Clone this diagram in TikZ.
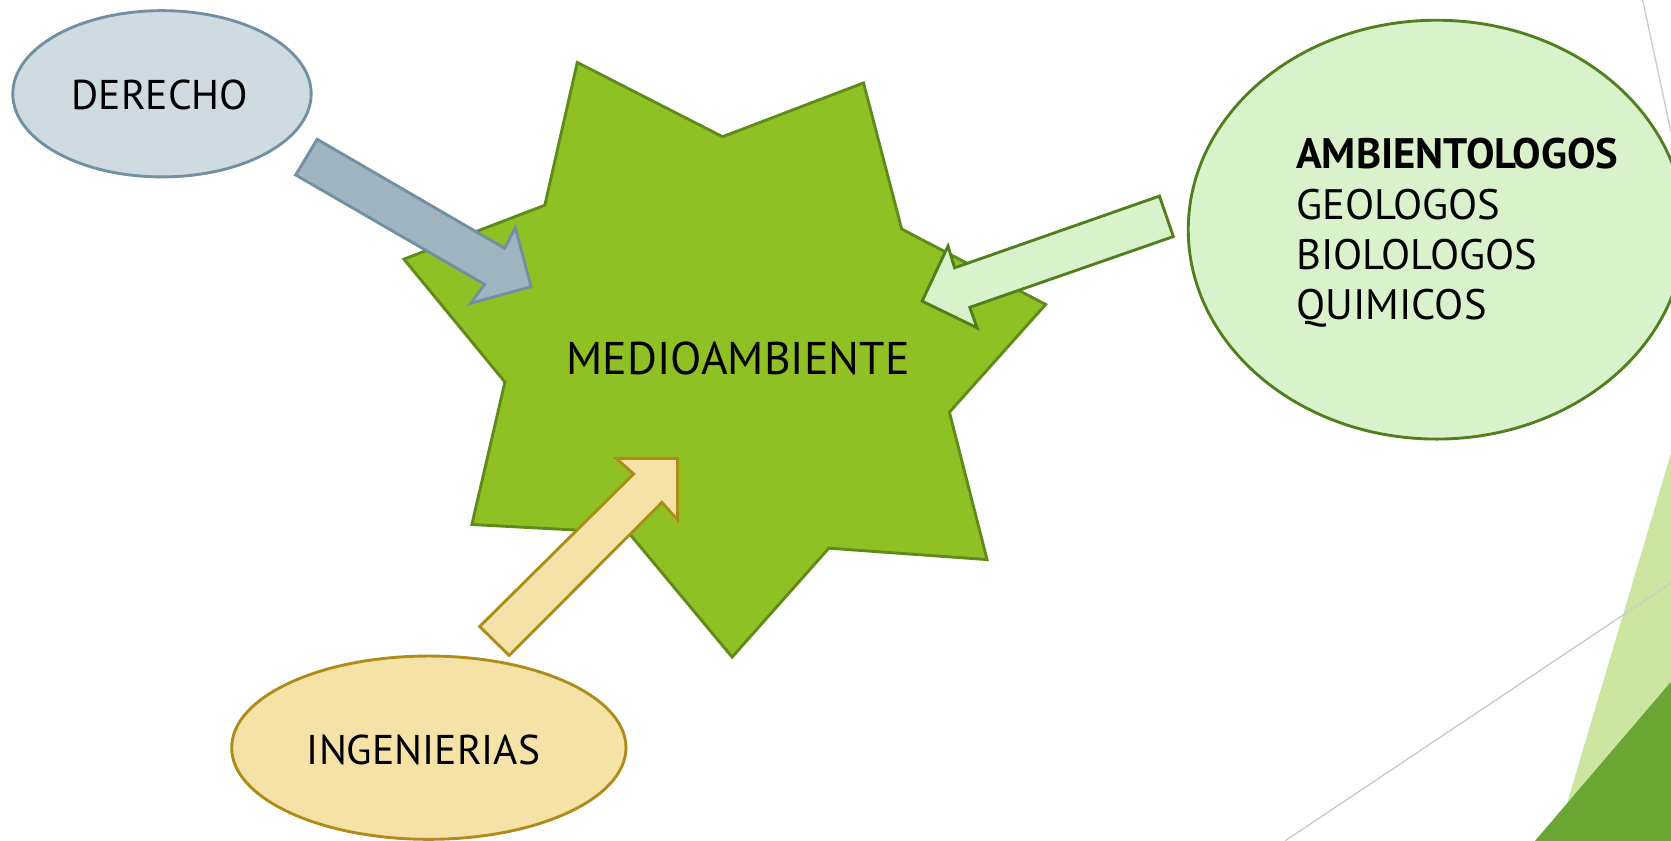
\documentclass[tikz,border=0pt]{standalone}
\usepackage{fontspec}
\setmainfont{PT Sans}
\usetikzlibrary{shapes.geometric}
\definecolor{derFill}{RGB}{207,219,225}
\definecolor{derDraw}{RGB}{113,145,163}
\definecolor{derArrow}{RGB}{160,180,192}
\definecolor{starFill}{RGB}{143,193,37}
\definecolor{starDraw}{RGB}{95,140,25}
\definecolor{ambFill}{RGB}{218,242,204}
\definecolor{ambDraw}{RGB}{80,128,30}
\definecolor{ingFill}{RGB}{244,226,166}
\definecolor{ingDraw}{RGB}{175,140,25}
\definecolor{triLight}{RGB}{204,229,160}
\definecolor{triDark}{RGB}{106,166,52}
\definecolor{decoLine}{RGB}{205,205,205}
\tikzset{
  shapeline/.style={line width=2.7pt, line join=miter},
  label/.style={anchor=base west, inner sep=0pt, font=\fontsize{39}{47}\selectfont},
  decoline/.style={draw=decoLine, line width=1.3pt},
}
\begin{document}
\begin{tikzpicture}[x=1pt,y=-1pt]
\useasboundingbox (0,0) rectangle (1568,789);
\clip (0,0) rectangle (1568,789);
\fill[white] (0,0) rectangle (1568,789);
% background decoration
\fill[triLight] (1568,425.4) -- (1460,789) -- (1568,789) -- cycle;
\fill[triDark] (1568,639.7) -- (1440.4,789) -- (1568,789) -- cycle;
\draw[decoline] (1206,789) -- (1568,547);
\draw[decoline] (1541.4,0) -- (1568,124);
% star
\draw[shapeline, fill=starFill, draw=starDraw]
  (541.7,58.6) -- (678,128.3) -- (810.3,77.8) -- (846.1,214.9) -- (981.2,285.7)
  -- (890.9,386.8) -- (926.2,525.1) -- (777.7,514.4) -- (687,616.6)
  -- (590,500) -- (442.8,492.2) -- (473.8,358.5) -- (379,243.2)
  -- (511.2,192.6) -- cycle;
\node[label, font=\fontsize{43}{50}\selectfont] (medio) at (531.6,351.6) {MEDIOAMBIENTE};
% ellipses
\draw[shapeline, fill=derFill, draw=derDraw] (152,88) ellipse [x radius=140, y radius=78];
\node[label] (derecho) at (67,102.6) {DERECHO};
\draw[shapeline, fill=ambFill, draw=ambDraw] (1348,215.5) ellipse [x radius=233, y radius=196.5];
\node[anchor=base west, inner sep=0pt, align=left, font=\fontsize{40}{47}\selectfont] (amb) at (1216,299.5)
  {\textbf{AMBIENTOLOGOS}\\GEOLOGOS\\BIOLOLOGOS\\QUIMICOS};
\draw[shapeline, fill=ingFill, draw=ingDraw] (402.4,701.6) ellipse [x radius=185, y radius=86];
\node[label] (ing) at (287.8,717) {INGENIERIAS};
% block arrows
\draw[shapeline, fill=derArrow, draw=derDraw]
  (297.6,130.7) -- (473.5,233) -- (483.6,213.6) -- (498.3,269) -- (441.7,284.6)
  -- (454.8,266.8) -- (277.5,164.2) -- cycle;
\draw[shapeline, fill=ambFill, draw=ambDraw]
  (1088,184) -- (895.7,251.3) -- (889.6,230.9) -- (865.3,282.6) -- (916.9,307.6)
  -- (910,288.4) -- (1101,222) -- cycle;
\draw[shapeline, fill=ingFill, draw=ingDraw]
  (450.1,587.9) -- (594.6,444.7) -- (578.3,430.2) -- (635.7,430.2) -- (635.7,487.6)
  -- (621.1,471.4) -- (477.8,615.1) -- cycle;
\end{tikzpicture}
\end{document}
